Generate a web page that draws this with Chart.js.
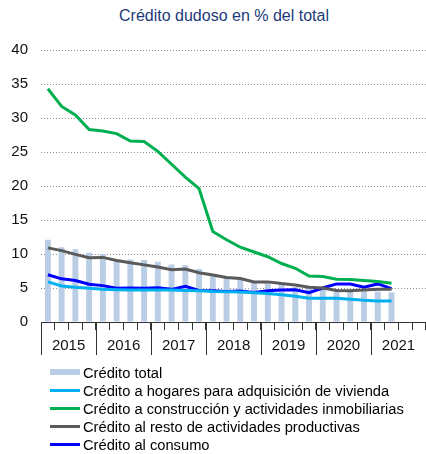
<!DOCTYPE html>
<html lang="es">
<head>
    <meta charset="UTF-8">
    <meta name="viewport" content="width=device-width, initial-scale=1.0">
    <title>Crédito dudoso en % del total</title>
    <script src="https://cdn.jsdelivr.net/npm/chart.js"></script>
    <style>
        body {
            margin: 0;
            width: 426px;
            height: 454px;
            overflow: hidden;
            background: #fff;
            font-family: Arial, "Liberation Sans", sans-serif;
        }

        /* Título centrado sobre el área de trazado */
        #titulo {
            position: absolute;
            top: 6px;
            left: 0;
            width: 448px;
            text-align: center;
            font-size: 16px;
            line-height: 20px;
            color: #1c3a78;
        }

        #grafico {
            position: absolute;
            top: 0;
            left: 0;
            width: 426px;
            height: 367px;
        }

        /* Leyenda en una columna debajo del gráfico */
        #leyenda {
            position: absolute;
            left: 0;
            top: 364px;
            font-size: 14.7px;
            line-height: 18.1px;
            color: #000;
        }

        .fila {
            position: relative;
            padding-left: 83px;
            white-space: nowrap;
        }

        .muestra {
            position: absolute;
            left: 50px;
            width: 30px;
        }
    </style>
</head>
<body>
    <div id="titulo">Crédito dudoso en % del total</div>
    <div id="grafico"><canvas id="chartDudoso"></canvas></div>
    <div id="leyenda"></div>

    <script>
        // Años del eje y trimestres (T1..T4) de cada año
        const anos = ['2015', '2016', '2017', '2018', '2019', '2020', '2021'];
        const trimestres = anos.flatMap(a => ['T1', 'T2', 'T3', 'T4'].map(t => a + ' ' + t));

        // Series trimestrales, desde 2015 T1 hasta 2021 T2 (%)
        const creditoTotal = [12.1, 11.0, 10.7, 10.2, 10.0, 9.2, 9.2, 9.1, 8.85, 8.45, 8.35, 7.8,
            7.0, 6.5, 6.3, 5.8, 5.7, 5.5, 5.15, 5.0, 4.8, 4.75, 4.6, 4.5, 4.5, 4.35];
        const creditoVivienda = [5.9, 5.3, 5.1, 4.95, 4.8, 4.75, 4.7, 4.7, 4.7, 4.7, 4.65, 4.6,
            4.5, 4.45, 4.4, 4.3, 4.2, 4.0, 3.8, 3.5, 3.5, 3.5, 3.35, 3.2, 3.1, 3.1];
        const creditoConstruccion = [34.3, 31.7, 30.45, 28.3, 28.1, 27.7, 26.6, 26.55, 25.1, 23.2, 21.3, 19.6,
            13.3, 12.1, 11.0, 10.3, 9.6, 8.6, 7.9, 6.75, 6.7, 6.3, 6.25, 6.1, 5.95, 5.7];
        const creditoResto = [10.9, 10.5, 9.95, 9.45, 9.5, 9.05, 8.7, 8.4, 8.1, 7.7, 7.8, 7.25,
            6.9, 6.55, 6.4, 5.9, 5.9, 5.65, 5.45, 5.1, 5.0, 4.65, 4.6, 4.7, 4.8, 4.8];
        const creditoConsumo = [6.95, 6.35, 6.1, 5.55, 5.35, 4.95, 5.0, 4.95, 5.05, 4.8, 5.25, 4.65,
            4.6, 4.5, 4.55, 4.35, 4.6, 4.7, 4.75, 4.3, 5.0, 5.6, 5.6, 5.1, 5.6, 4.9];

        const ticksY = [0, 5, 10, 15, 20, 25, 30, 35, 40];

        const datasets = [
            {
                type: 'bar',
                label: 'Crédito total',
                data: creditoTotal,
                backgroundColor: '#b9cde5',
                barPercentage: 0.43,
                categoryPercentage: 1,
                order: 2
            },
            {
                type: 'line',
                label: 'Crédito a hogares para adquisición de vivienda',
                data: creditoVivienda,
                borderColor: '#00b0f0',
                order: 1
            },
            {
                type: 'line',
                label: 'Crédito a construcción y actividades inmobiliarias',
                data: creditoConstruccion,
                borderColor: '#00b050',
                order: 1
            },
            {
                type: 'line',
                label: 'Crédito al resto de actividades productivas',
                data: creditoResto,
                borderColor: '#5a5a5a',
                order: 1
            },
            {
                type: 'line',
                label: 'Crédito al consumo',
                data: creditoConsumo,
                borderColor: '#0000ff',
                order: 1
            }
        ];

        // Líneas largas que separan los años bajo el eje horizontal
        const separadoresAnuales = {
            id: 'separadoresAnuales',
            afterDraw(chart) {
                const x = chart.scales.x;
                const ctx = chart.ctx;
                const y0 = chart.chartArea.bottom;
                ctx.save();
                ctx.strokeStyle = '#333';
                ctx.lineWidth = 1;
                ctx.beginPath();
                for (let i = 0; i <= trimestres.length; i += 4) {
                    const px = Math.round(x.getPixelForValue(i - 0.5)) + 0.5;
                    ctx.moveTo(px, y0);
                    ctx.lineTo(px, y0 + 33);
                }
                ctx.stroke();
                ctx.restore();
            }
        };

        const fuente = { family: 'Arial, "Liberation Sans", sans-serif', size: 15 };

        new Chart(document.getElementById('chartDudoso'), {
            data: { labels: trimestres, datasets: datasets },
            plugins: [separadoresAnuales],
            options: {
                responsive: true,
                maintainAspectRatio: false,
                animation: false,
                layout: { padding: { top: 50, left: 10, right: 0, bottom: 5 } },
                elements: {
                    line: { borderWidth: 3, tension: 0, fill: false },
                    point: { radius: 0 }
                },
                plugins: {
                    legend: { display: false },
                    tooltip: { enabled: false }
                },
                scales: {
                    x: {
                        offset: true,
                        grid: {
                            offset: true,
                            drawOnChartArea: false,
                            tickLength: 8,
                            color: '#333'
                        },
                        border: { display: true, color: '#333', width: 1 },
                        ticks: {
                            autoSkip: false,
                            maxRotation: 0,
                            padding: 7,
                            labelOffset: 7,
                            color: '#111',
                            font: fuente,
                            callback: (v, i) => (i % 4 === 1 ? anos[Math.floor(i / 4)] : '')
                        }
                    },
                    y: {
                        min: 0,
                        max: 40,
                        afterBuildTicks: s => { s.ticks = ticksY.map(v => ({ value: v })); },
                        afterFit: s => { s.width = 31; },
                        grid: {
                            drawTicks: false,
                            lineWidth: 1,
                            color: c => (c.tick && c.tick.value === 0 ? 'rgba(0,0,0,0)' : '#8c8c8c')
                        },
                        border: { display: false, dash: [1, 2] },
                        ticks: { padding: 13, color: '#111', font: fuente }
                    }
                }
            }
        });

        // Leyenda en columna construida a partir de los datasets
        const leyenda = document.getElementById('leyenda');
        datasets.forEach(ds => {
            const fila = document.createElement('div');
            fila.className = 'fila';
            const muestra = document.createElement('span');
            muestra.className = 'muestra';
            if (ds.type === 'bar') {
                muestra.style.top = '4.9px';
                muestra.style.height = '6.6px';
                muestra.style.background = ds.backgroundColor;
            } else {
                muestra.style.top = '6.7px';
                muestra.style.height = '3px';
                muestra.style.background = ds.borderColor;
            }
            fila.appendChild(muestra);
            fila.appendChild(document.createTextNode(ds.label));
            leyenda.appendChild(fila);
        });
    </script>
</body>
</html>
